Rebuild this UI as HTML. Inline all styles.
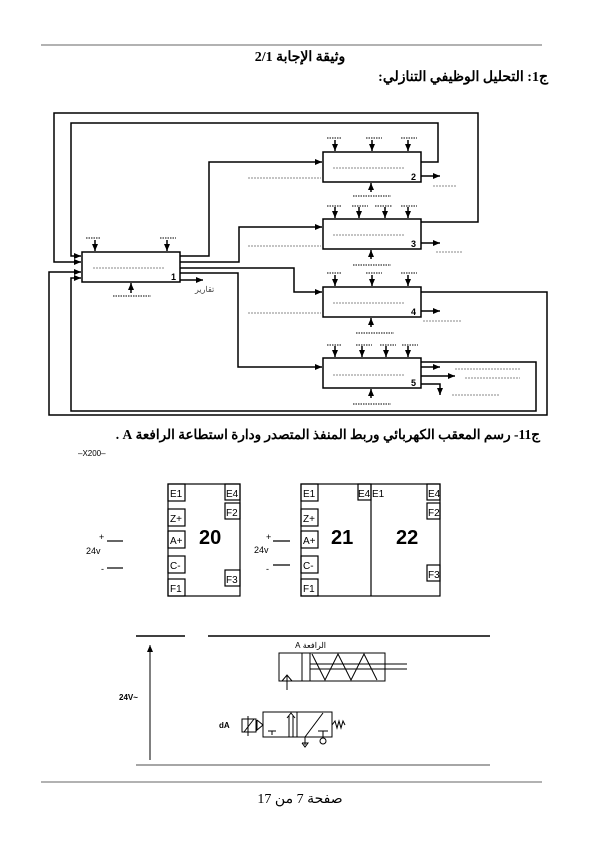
<!DOCTYPE html>
<html><head><meta charset="utf-8"><style>
body{margin:0;background:#fff}
svg{display:block}
text{font-family:"Liberation Sans","Noto Sans CJK SC",sans-serif}
.s{font-family:"Liberation Serif","Noto Sans CJK SC",serif}
</style></head><body>
<svg width="600" height="849" viewBox="0 0 600 849" xmlns="http://www.w3.org/2000/svg">
<defs>
<marker id="a" markerWidth="8" markerHeight="8" refX="7" refY="4" orient="auto" markerUnits="userSpaceOnUse"><path d="M0,1 L7,4 L0,7 z" fill="#000"/></marker>
</defs>
<line x1="41" y1="45" x2="542" y2="45" stroke="#999" stroke-width="1.5"/>
<text x="300" y="61" class="s" font-size="14" font-weight="bold" text-anchor="middle" direction="rtl">وثيقة الإجابة 2/1</text>
<text x="548" y="81" class="s" font-size="14" font-weight="bold" text-anchor="start" direction="rtl">ج1: التحليل الوظيفي التنازلي:</text>

<g fill="none" stroke="#000" stroke-width="1.5">
<rect x="82" y="252" width="98" height="30"/>
<rect x="323" y="152" width="98" height="30"/>
<rect x="323" y="219" width="98" height="30"/>
<rect x="323" y="287" width="98" height="30"/>
<rect x="323" y="358" width="98" height="30"/>
<!-- feedback loops -->
<polyline points="421,222 478,222 478,113 54,113 54,262 81,262" marker-end="url(#a)"/>
<polyline points="421,162 438,162 438,123 71,123 71,256 81,256" marker-end="url(#a)"/>
<polyline points="421,292 547,292 547,415 49,415 49,272 81,272" marker-end="url(#a)"/>
<polyline points="421,362 536,362 536,411 71,411 71,278 81,278" marker-end="url(#a)"/>
<!-- outputs of box1 -->
<polyline points="180,256 209,256 209,162 322,162" marker-end="url(#a)"/>
<polyline points="180,262 239,262 239,227 322,227" marker-end="url(#a)"/>
<polyline points="180,268 294,268 294,292 322,292" marker-end="url(#a)"/>
<polyline points="180,273 238,273 238,367 322,367" marker-end="url(#a)"/>
<line x1="180" y1="280" x2="203" y2="280" marker-end="url(#a)"/>
<!-- right outputs -->
<line x1="421" y1="176" x2="440" y2="176" marker-end="url(#a)"/>
<line x1="421" y1="243" x2="440" y2="243" marker-end="url(#a)"/>
<line x1="421" y1="311" x2="440" y2="311" marker-end="url(#a)"/>
<line x1="421" y1="367" x2="440" y2="367" marker-end="url(#a)"/>
<line x1="421" y1="376" x2="455" y2="376" marker-end="url(#a)"/>
<polyline points="421,384 440,384 440,395" marker-end="url(#a)"/>
<!-- top arrows -->
<line x1="95" y1="240" x2="95" y2="251" marker-end="url(#a)"/>
<line x1="167" y1="240" x2="167" y2="251" marker-end="url(#a)"/>
<line x1="335" y1="140" x2="335" y2="151" marker-end="url(#a)"/>
<line x1="372" y1="140" x2="372" y2="151" marker-end="url(#a)"/>
<line x1="408" y1="140" x2="408" y2="151" marker-end="url(#a)"/>
<line x1="335" y1="207" x2="335" y2="218" marker-end="url(#a)"/>
<line x1="359" y1="207" x2="359" y2="218" marker-end="url(#a)"/>
<line x1="385" y1="207" x2="385" y2="218" marker-end="url(#a)"/>
<line x1="408" y1="207" x2="408" y2="218" marker-end="url(#a)"/>
<line x1="335" y1="275" x2="335" y2="286" marker-end="url(#a)"/>
<line x1="372" y1="275" x2="372" y2="286" marker-end="url(#a)"/>
<line x1="408" y1="275" x2="408" y2="286" marker-end="url(#a)"/>
<line x1="335" y1="346" x2="335" y2="357" marker-end="url(#a)"/>
<line x1="362" y1="346" x2="362" y2="357" marker-end="url(#a)"/>
<line x1="386" y1="346" x2="386" y2="357" marker-end="url(#a)"/>
<line x1="408" y1="346" x2="408" y2="357" marker-end="url(#a)"/>
<!-- bottom arrows -->
<line x1="131" y1="293" x2="131" y2="283" marker-end="url(#a)"/>
<line x1="371" y1="192" x2="371" y2="183" marker-end="url(#a)"/>
<line x1="371" y1="259" x2="371" y2="250" marker-end="url(#a)"/>
<line x1="371" y1="327" x2="371" y2="318" marker-end="url(#a)"/>
<line x1="371" y1="398" x2="371" y2="389" marker-end="url(#a)"/>
</g>
<g stroke="#888" stroke-width="1" stroke-dasharray="2,1" fill="none">
<line x1="248" y1="178" x2="321" y2="178"/><line x1="248" y1="246" x2="321" y2="246"/><line x1="248" y1="313" x2="321" y2="313"/>
<line x1="93" y1="268" x2="165" y2="268"/>
<line x1="333" y1="168" x2="405" y2="168"/><line x1="333" y1="235" x2="405" y2="235"/><line x1="333" y1="303" x2="405" y2="303"/><line x1="333" y1="375" x2="405" y2="375"/>
<line x1="433" y1="186" x2="456" y2="186"/><line x1="436" y1="252" x2="462" y2="252"/><line x1="423" y1="321" x2="462" y2="321"/>
<line x1="455" y1="369" x2="520" y2="369"/><line x1="465" y1="378" x2="520" y2="378"/><line x1="452" y1="395" x2="500" y2="395"/>
</g>
<g stroke="#000" stroke-width="1" stroke-dasharray="1.5,1" fill="none">
<line x1="86" y1="238" x2="100" y2="238"/><line x1="160" y1="238" x2="176" y2="238"/>
<line x1="113" y1="296" x2="151" y2="296"/>
<line x1="327" y1="138" x2="342" y2="138"/><line x1="366" y1="138" x2="382" y2="138"/><line x1="401" y1="138" x2="417" y2="138"/>
<line x1="353" y1="196" x2="391" y2="196"/>
<line x1="327" y1="206" x2="342" y2="206"/><line x1="352" y1="206" x2="368" y2="206"/><line x1="375" y1="206" x2="392" y2="206"/><line x1="401" y1="206" x2="417" y2="206"/>
<line x1="353" y1="265" x2="391" y2="265"/>
<line x1="327" y1="273" x2="342" y2="273"/><line x1="366" y1="273" x2="382" y2="273"/><line x1="401" y1="273" x2="417" y2="273"/>
<line x1="356" y1="333" x2="394" y2="333"/>
<line x1="327" y1="345" x2="342" y2="345"/><line x1="356" y1="345" x2="372" y2="345"/><line x1="380" y1="345" x2="396" y2="345"/><line x1="402" y1="345" x2="418" y2="345"/>
<line x1="353" y1="404" x2="391" y2="404"/>
</g>
<g font-size="9" font-weight="bold">
<text x="171" y="280">1</text><text x="411" y="180">2</text><text x="411" y="247">3</text><text x="411" y="315">4</text><text x="411" y="386">5</text>
</g>
<text x="195" y="292" font-size="8" fill="#444">تقارير</text>

<text x="540" y="439" class="s" font-size="13.5" font-weight="bold" direction="rtl">ج11- رسم المعقب الكهربائي وربط المنفذ المتصدر ودارة استطاعة الرافعة A .</text>
<text x="78" y="456" font-size="8">–X200–</text>

<g fill="none" stroke="#000" stroke-width="1.2">
<rect x="168" y="484" width="72" height="112"/>
<rect x="301" y="484" width="139" height="112"/>
<line x1="371" y1="484" x2="371" y2="596"/>
<rect x="168" y="484" width="17" height="17"/><rect x="168" y="509" width="17" height="17"/><rect x="168" y="531" width="17" height="17"/><rect x="168" y="556" width="17" height="17"/><rect x="168" y="579" width="17" height="17"/>
<rect x="225" y="484" width="15" height="16"/><rect x="225" y="503" width="15" height="16"/><rect x="225" y="570" width="15" height="16"/>
<rect x="301" y="484" width="17" height="17"/><rect x="301" y="509" width="17" height="17"/><rect x="301" y="531" width="17" height="17"/><rect x="301" y="556" width="17" height="17"/><rect x="301" y="579" width="17" height="17"/>
<rect x="358" y="484" width="13" height="16"/><rect x="427" y="484" width="13" height="16"/><rect x="427" y="503" width="13" height="16"/><rect x="427" y="565" width="13" height="16"/>
<line x1="107" y1="541" x2="123" y2="541"/><line x1="107" y1="568" x2="123" y2="568"/>
<line x1="273" y1="541" x2="290" y2="541"/><line x1="273" y1="565" x2="290" y2="565"/>
</g>
<g font-size="10">
<text x="170" y="497">E1</text><text x="170" y="522">Z+</text><text x="170" y="544">A+</text><text x="170" y="569">C-</text><text x="170" y="592">F1</text>
<text x="226" y="497">E4</text><text x="226" y="516">F2</text><text x="226" y="583">F3</text>
<text x="303" y="497">E1</text><text x="303" y="522">Z+</text><text x="303" y="544">A+</text><text x="303" y="569">C-</text><text x="303" y="592">F1</text>
<text x="358" y="497">E4</text><text x="372" y="497">E1</text><text x="428" y="497">E4</text><text x="428" y="516">F2</text><text x="428" y="578">F3</text>
</g>
<g font-size="20" font-weight="bold"><text x="199" y="544">20</text><text x="331" y="544">21</text><text x="396" y="544">22</text></g>
<g font-size="9"><text x="99" y="540">+</text><text x="86" y="554">24v</text><text x="101" y="572">-</text>
<text x="266" y="540">+</text><text x="254" y="553">24v</text><text x="266" y="572">-</text></g>

<g fill="none" stroke="#000" stroke-width="1">
<line x1="136" y1="636" x2="185" y2="636" stroke-width="1.5"/>
<line x1="208" y1="636" x2="490" y2="636" stroke-width="1.5"/>
<line x1="136" y1="765" x2="490" y2="765" stroke="#888" stroke-width="1.5"/>
<line x1="150" y1="760" x2="150" y2="645" marker-end="url(#a)"/>
<rect x="279" y="653" width="106" height="28"/>
<line x1="302" y1="653" x2="302" y2="681"/><line x1="310" y1="653" x2="310" y2="681"/>
<line x1="310" y1="664" x2="407" y2="664"/><line x1="310" y1="669" x2="407" y2="669"/>
<polyline points="312,654 325,680 338,654 351,680 364,654 377,680"/>
<polyline points="282,681 287,675 292,681"/><line x1="287" y1="675" x2="287" y2="690"/>
<rect x="263" y="712" width="69" height="25"/><line x1="297" y1="712" x2="297" y2="737"/>
<rect x="242" y="719" width="14" height="13"/><line x1="244" y1="732" x2="254" y2="719"/><line x1="248" y1="716" x2="248" y2="736"/>
<polyline points="257,720 263,725 257,730 257,720"/>
<line x1="268" y1="731" x2="276" y2="731"/><line x1="272" y1="731" x2="272" y2="735"/>
<line x1="289" y1="716" x2="289" y2="737"/><line x1="293" y1="716" x2="293" y2="737"/>
<polyline points="287,718 291,713 295,718"/>
<line x1="305" y1="737" x2="323" y2="713"/>
<line x1="305" y1="737" x2="305" y2="745"/><polyline points="302,743 305,747 308,743 302,743"/>
<line x1="318" y1="731" x2="328" y2="731"/><line x1="323" y1="731" x2="323" y2="738"/><circle cx="323" cy="741" r="3"/>
<polyline points="332,725 335,721 337,728 339,721 341,728 343,721 345,725"/>
</g>
<text x="326" y="648" font-size="8" direction="rtl">الرافعة A</text>
<text x="119" y="700" font-size="8" font-weight="bold">24V~</text>
<text x="219" y="728" font-size="8" font-weight="bold">dA</text>

<line x1="41" y1="782" x2="542" y2="782" stroke="#999" stroke-width="1.5"/>
<text x="300" y="803" class="s" font-size="14" text-anchor="middle" direction="rtl">صفحة 7 من 17</text>
</svg>
</body></html>
